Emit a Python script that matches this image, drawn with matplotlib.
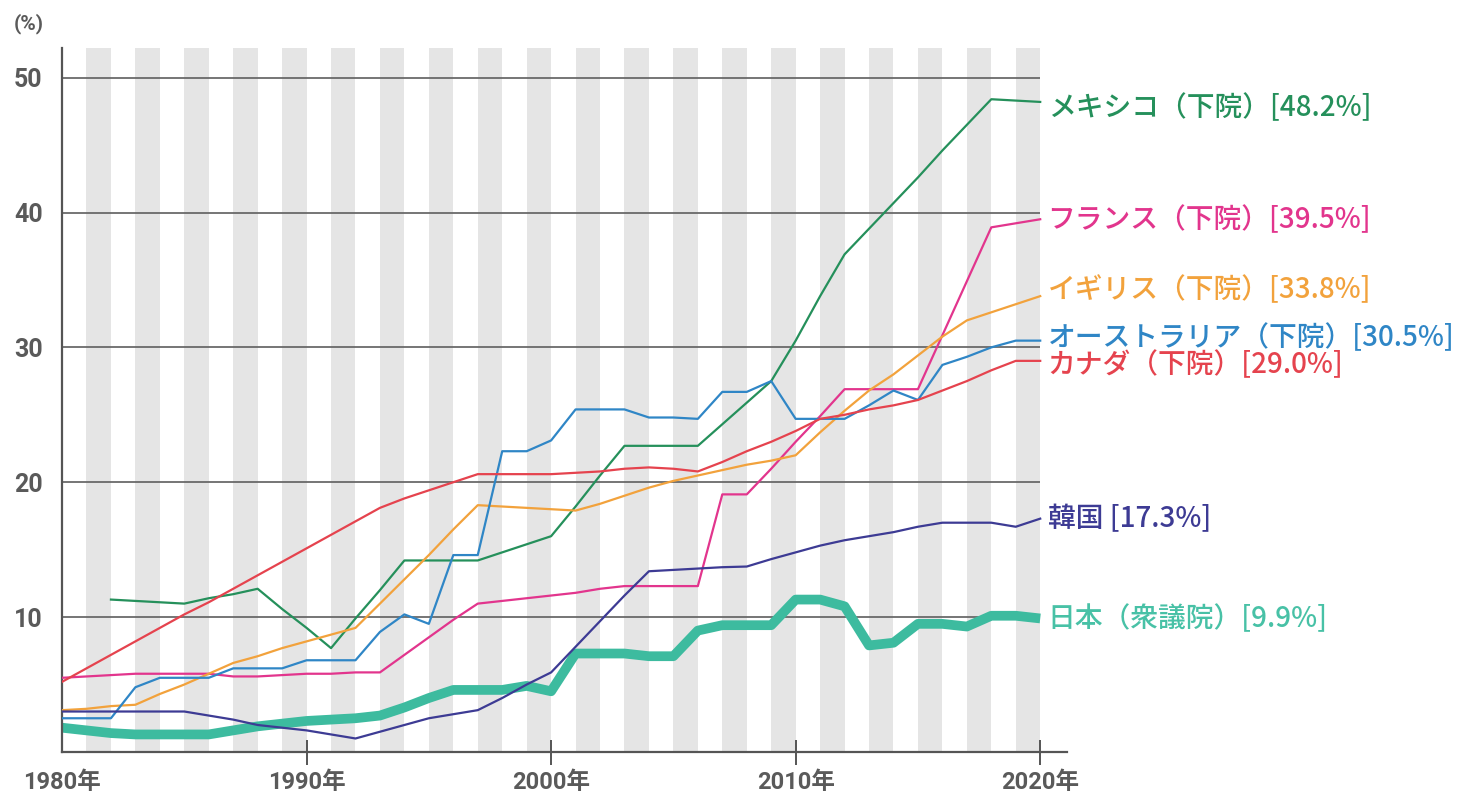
import numpy as np
import matplotlib
matplotlib.use("Agg")
import matplotlib.pyplot as plt

plt.rcParams['font.family'] = ['Noto Sans CJK JP', 'DejaVu Sans']

years = list(range(1980, 2021))
nan = np.nan

mexico = [nan, nan, 11.3, 11.2, 11.1, 11.0, 11.4, 11.7, 12.1, 10.6,
          9.2, 7.7, 9.9, 12.0, 14.2, 14.2, 14.2, 14.2, 14.8, 15.4,
          16.0, 18.2, 20.5, 22.7, 22.7, 22.7, 22.7, 24.3, 25.9, 27.5,
          30.5, 33.8, 36.9, 38.8, 40.7, 42.6, 44.6, 46.5, 48.4, 48.3,
          48.2]
france = [5.5, 5.6, 5.7, 5.8, 5.8, 5.8, 5.8, 5.6, 5.6, 5.7,
          5.8, 5.8, 5.9, 5.9, 7.2, 8.5, 9.8, 11.0, 11.2, 11.4,
          11.6, 11.8, 12.1, 12.3, 12.3, 12.3, 12.3, 19.1, 19.1, 21.0,
          23.0, 24.9, 26.9, 26.9, 26.9, 26.9, 30.9, 34.9, 38.9, 39.2,
          39.5]
uk = [3.1, 3.2, 3.4, 3.5, 4.3, 5.0, 5.8, 6.6, 7.1, 7.7,
      8.2, 8.7, 9.2, 11.0, 12.8, 14.6, 16.5, 18.3, 18.2, 18.1,
      18.0, 17.9, 18.4, 19.0, 19.6, 20.1, 20.5, 20.9, 21.3, 21.6,
      22.0, 23.7, 25.3, 26.8, 28.0, 29.4, 30.8, 32.0, 32.6, 33.2,
      33.8]
australia = [2.5, 2.5, 2.5, 4.8, 5.5, 5.5, 5.5, 6.2, 6.2, 6.2,
             6.8, 6.8, 6.8, 8.9, 10.2, 9.5, 14.6, 14.6, 22.3, 22.3,
             23.1, 25.4, 25.4, 25.4, 24.8, 24.8, 24.7, 26.7, 26.7, 27.5,
             24.7, 24.7, 24.7, 25.7, 26.8, 26.1, 28.7, 29.3, 30.0, 30.5,
             30.5]
canada = [5.2, 6.2, 7.2, 8.2, 9.2, 10.2, 11.1, 12.1, 13.1, 14.1,
          15.1, 16.1, 17.1, 18.1, 18.8, 19.4, 20.0, 20.6, 20.6, 20.6,
          20.6, 20.7, 20.8, 21.0, 21.1, 21.0, 20.8, 21.5, 22.3, 23.0,
          23.8, 24.7, 25.0, 25.4, 25.7, 26.1, 26.8, 27.5, 28.3, 29.0,
          29.0]
korea = [3.0, 3.0, 3.0, 3.0, 3.0, 3.0, 2.7, 2.4, 2.0, 1.8,
         1.6, 1.3, 1.0, 1.5, 2.0, 2.5, 2.8, 3.1, 4.0, 5.0,
         5.9, 7.8, 9.7, 11.6, 13.4, 13.5, 13.6, 13.7, 13.75, 14.3,
         14.8, 15.3, 15.7, 16.0, 16.3, 16.7, 17.0, 17.0, 17.0, 16.7,
         17.3]
japan = [1.8, 1.6, 1.4, 1.3, 1.3, 1.3, 1.3, 1.6, 1.9, 2.1,
         2.3, 2.4, 2.5, 2.7, 3.3, 4.0, 4.6, 4.6, 4.6, 4.9,
         4.5, 7.3, 7.3, 7.3, 7.1, 7.1, 9.0, 9.4, 9.4, 9.4,
         11.3, 11.3, 10.8, 7.9, 8.1, 9.5, 9.5, 9.3, 10.1, 10.1,
         9.9]

labels = ['メキシコ（下院）[48.2%]', 'フランス（下院）[39.5%]', 'イギリス（下院）[33.8%]',
          'オーストラリア（下院）[30.5%]', 'カナダ（下院）[29.0%]', '韓国 [17.3%]',
          '日本（衆議院）[9.9%]']
label_y = [47.8, 39.5, 34.3, 30.7, 28.7, 17.3, 9.9]
colors = ['#25905b', '#e2358d', '#f2a23c', '#2f86c6', '#e5434e', '#3d3b94', '#3dbb9f']
label_colors = ['#25905b', '#e2358d', '#f2a23c', '#2f86c6', '#e5434e', '#3d3b94', '#48c1a6']

series = [mexico, france, uk, australia, canada, korea, japan]

fig = plt.figure(figsize=(14.63, 7.97), dpi=100)
ax = fig.add_axes([0.0424, 0.0565, 0.687, 0.8833])
ax.set_xlim(1980, 2021.1)
ax.set_ylim(0, 52.2)

# stripes
for y0 in range(1981, 2020, 2):
    ax.axvspan(y0, y0 + 1, color='#e5e5e5', lw=0, zorder=0)

# gridlines
for g in [10, 20, 30, 40, 50]:
    ax.hlines(g, 1980, 2020, color='#6a6a6a', lw=1.3, zorder=1)

# lines
for i, (s, c) in enumerate(zip(series, colors)):
    if i == 6:
        ax.plot(years, s, color=c, lw=7, zorder=2, solid_capstyle='butt', solid_joinstyle='round')
    else:
        ax.plot(years, s, color=c, lw=1.6, zorder=3, solid_joinstyle='round')

for lab, ly, c in zip(labels, label_y, label_colors):
    ax.text(2020.3, ly, lab, color=c, fontsize=20, ha='left', va='center',
            fontweight='medium', clip_on=False)

for side in ['top', 'right']:
    ax.spines[side].set_visible(False)
ax.spines['left'].set_color('#555555')
ax.spines['left'].set_linewidth(1.6)
ax.spines['bottom'].set_color('#555555')
ax.spines['bottom'].set_linewidth(1.6)

ax.set_yticks([10, 20, 30, 40, 50])
ax.set_yticklabels(['10', '20', '30', '40', '50'], fontsize=18, color='#5a5a5a',
                   fontweight='bold', family=['Roboto', 'Noto Sans CJK JP'])
ax.tick_params(axis='y', length=0, pad=14)

ax.set_xticks([1980, 1990, 2000, 2010, 2020])
ax.set_xticklabels(['1980年', '1990年', '2000年', '2010年', '2020年'], fontsize=17,
                   color='#5a5a5a', fontweight='bold', family=['Roboto', 'Noto Sans CJK JP'])
ax.tick_params(axis='x', direction='inout', length=18, width=1.4, color='#555555', pad=5)
ax.xaxis.get_major_ticks()[0].tick1line.set_visible(False)

fig.text(14 / 1463, 1 - 24 / 797, '(%)', fontsize=15, color='#5a5a5a', fontweight='bold',
         family=['Roboto', 'Noto Sans CJK JP'], ha='left', va='center')

fig.savefig('out.png', dpi=100, facecolor='white')
